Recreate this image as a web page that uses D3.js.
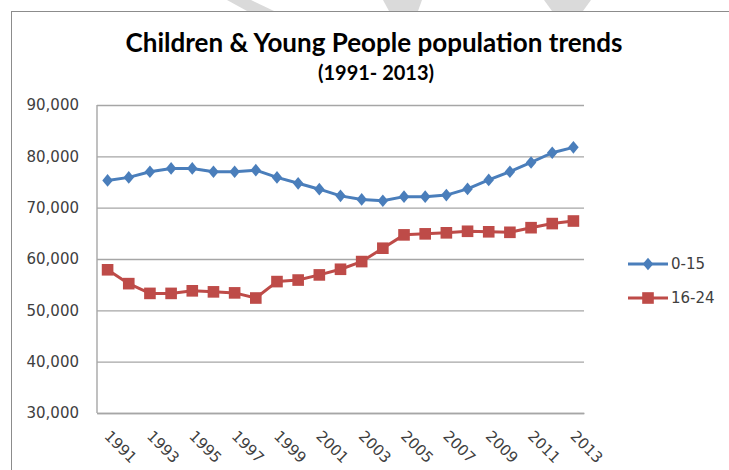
<!DOCTYPE html>
<html>
<head>
    <meta charset="utf-8">
    <title>Children &amp; Young People population trends</title>
    <script src="https://d3js.org/d3.v7.min.js"></script>
    <style>
        body { margin: 0; background: #fff; }
        svg { display: block; }
    </style>
</head>
<body>
    <div id="chart"></div>

    <script>
        // Data
        const years = [1991, 1992, 1993, 1994, 1995, 1996, 1997, 1998, 1999, 2000, 2001, 2002,
                       2003, 2004, 2005, 2006, 2007, 2008, 2009, 2010, 2011, 2012, 2013];
        const ages0to15 = [75300, 75900, 77000, 77650, 77650, 77000, 77000, 77300, 75900, 74750, 73600, 72300,
                           71600, 71350, 72150, 72150, 72450, 73650, 75400, 77000, 78800, 80700, 81750];
        const ages16to24 = [57900, 55200, 53300, 53300, 53800, 53600, 53400, 52400, 55600, 55900, 56900, 58000,
                            59500, 62100, 64700, 64900, 65100, 65400, 65300, 65200, 66100, 66900, 67400];
        const seriesNames = ['0-15', '16-24'];
        const yTicks = [30000, 40000, 50000, 60000, 70000, 80000, 90000];
        const xLabels = [1991, 1993, 1995, 1997, 1999, 2001, 2003, 2005, 2007, 2009, 2011, 2013];

        const width = 729;
        const height = 470;
        const plot = { left: 97, right: 584, top: 105, bottom: 413 };
        const blue = '#4a7ebb';
        const red = '#be4b48';
        const textColor = '#404040';
        const labelFont = '"DejaVu Sans", Verdana, sans-serif';

        const svg = d3.select('#chart').append('svg')
                      .attr('width', width)
                      .attr('height', height);

        // Watermark fragments above the frame
        const marks = [
            [[227, 0], [251, 0], [274, 11], [247, 11]],
            [[383, 0], [422, 0], [418, 11], [389, 11]],
            [[544, 0], [591, 0], [583, 11], [552, 11]]
        ];
        marks.forEach((m) => {
            svg.append('polygon')
               .attr('points', m.map((p) => p.join(',')).join(' '))
               .attr('fill', '#dadada');
        });

        // Chart frame
        svg.append('rect')
           .attr('x', 11.5)
           .attr('y', 11.5)
           .attr('width', width)
           .attr('height', height)
           .attr('fill', '#fff')
           .attr('stroke', '#8c8c8c');

        // Scales
        const x = d3.scaleBand()
                    .domain(years)
                    .range([plot.left, plot.right]);
        const cx = (d) => x(d) + x.bandwidth() / 2;

        const y = d3.scaleLinear()
                    .domain([30000, 90000])
                    .range([plot.bottom, plot.top]);

        // Y axis with gridlines
        const yAxis = svg.append('g')
                         .attr('transform', `translate(${plot.left},0)`)
                         .call(d3.axisLeft(y)
                                 .tickValues(yTicks)
                                 .tickSize(-(plot.right - plot.left))
                                 .tickPadding(18)
                                 .tickFormat(d3.format(',')));
        yAxis.select('.domain').remove();
        yAxis.selectAll('line')
             .attr('stroke', '#a6a6a6')
             .attr('stroke-width', 1.4);
        yAxis.selectAll('text')
             .attr('fill', textColor)
             .style('font-family', labelFont)
             .style('font-size', '15px');

        // Left axis line
        svg.append('line')
           .attr('x1', plot.left)
           .attr('x2', plot.left)
           .attr('y1', plot.top)
           .attr('y2', plot.bottom)
           .attr('stroke', '#a6a6a6')
           .attr('stroke-width', 1.4);

        // X axis labels (every other year, rotated)
        const xAxis = svg.append('g')
                         .attr('transform', `translate(0,${plot.bottom})`)
                         .call(d3.axisBottom(x)
                                 .tickValues(xLabels)
                                 .tickSize(0));
        xAxis.select('.domain')
             .attr('stroke', '#a6a6a6')
             .attr('stroke-width', 1.4);
        xAxis.selectAll('text')
             .attr('fill', textColor)
             .style('font-family', labelFont)
             .style('font-size', '15px')
             .attr('text-anchor', 'start')
             .attr('x', 0)
             .attr('y', 0)
             .attr('dy', 0)
             .attr('transform', 'translate(-4,24) rotate(45)');

        // Lines and markers
        const line = d3.line()
                       .x((d) => cx(d[0]))
                       .y((d) => y(d[1]));

        // diamond = square turned 45deg, a bit taller than wide
        const diamond = { path: d3.symbol().type(d3.symbolSquare).size(56)(), shape: 'scale(1,1.2) rotate(45)' };
        const square = { path: d3.symbol().type(d3.symbolSquare).size(135)(), shape: '' };

        const series = [
            { name: seriesNames[0], values: ages0to15, color: blue, marker: diamond },
            { name: seriesNames[1], values: ages16to24, color: red, marker: square }
        ];

        series.forEach((s) => {
            const pts = years.map((yr, i) => [yr, s.values[i]]);
            svg.append('path')
               .datum(pts)
               .attr('d', line)
               .attr('fill', 'none')
               .attr('stroke', s.color)
               .attr('stroke-width', 3)
               .attr('stroke-linejoin', 'round');
            svg.append('g')
               .selectAll('path')
               .data(pts)
               .join('path')
               .attr('d', s.marker.path)
               .attr('transform', (d) => `translate(${cx(d[0])},${y(d[1])}) ${s.marker.shape}`)
               .attr('fill', s.color);
        });

        // Legend
        series.forEach((s, i) => {
            const ly = 264 + i * 34;
            svg.append('line')
               .attr('x1', 628)
               .attr('x2', 668)
               .attr('y1', ly)
               .attr('y2', ly)
               .attr('stroke', s.color)
               .attr('stroke-width', 3);
            svg.append('path')
               .attr('d', s.marker.path)
               .attr('transform', `translate(648,${ly}) ${s.marker.shape}`)
               .attr('fill', s.color);
            svg.append('text')
               .attr('x', 671)
               .attr('y', ly)
               .attr('dy', '0.35em')
               .attr('fill', textColor)
               .style('font-family', labelFont)
               .style('font-size', '15px')
               .text(s.name);
        });

        // Title
        svg.append('text')
           .attr('x', 374)
           .attr('y', 52)
           .attr('text-anchor', 'middle')
           .style('font-family', 'Lato, "Open Sans", sans-serif')
           .style('font-weight', 'bold')
           .style('font-size', '26px')
           .attr('fill', '#000')
           .text('Children & Young People population trends');

        svg.append('text')
           .attr('x', 376)
           .attr('y', 80)
           .attr('text-anchor', 'middle')
           .style('font-family', 'Lato, "Open Sans", sans-serif')
           .style('font-weight', 'bold')
           .style('font-size', '20px')
           .attr('fill', '#000')
           .text('(1991- 2013)');
    </script>
</body>
</html>
